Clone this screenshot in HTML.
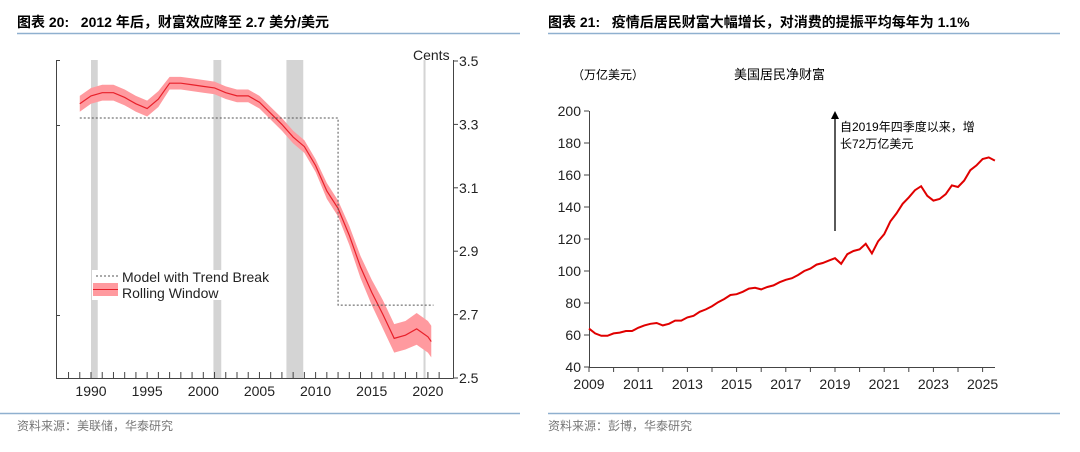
<!DOCTYPE html>
<html><head><meta charset="utf-8"><style>
body{margin:0;background:#fff;width:1080px;height:447px;overflow:hidden;font-family:"Liberation Sans","Noto Sans CJK SC",sans-serif}
svg text{font-family:"Liberation Sans","Noto Sans CJK SC",sans-serif}
</style></head><body>
<svg width="1080" height="447" viewBox="0 0 1080 447">
<g>
<text x="17" y="27" font-size="14" font-weight="bold" fill="#000">图表 20:&#160;&#160;&#160;2012 年后，财富效应降至 2.7 美分/美元</text>
<line x1="17" y1="33.5" x2="520" y2="33.5" stroke="#8fb0cf" stroke-width="1.5"/>
<g id="lc"></g>
<line x1="0" y1="413.5" x2="520" y2="413.5" stroke="#8fb0cf" stroke-width="1.5"/>
<text x="17" y="430" font-size="12" fill="#777">资料来源：美联储，华泰研究</text>
</g>
<g>
<text x="548" y="27" font-size="14" font-weight="bold" fill="#000">图表 21:&#160;&#160;&#160;疫情后居民财富大幅增长，对消费的提振平均每年为 1.1%</text>
<line x1="548" y1="33.5" x2="1060" y2="33.5" stroke="#8fb0cf" stroke-width="1.5"/>
<text x="572" y="79" font-size="12" fill="#000">（万亿美元）</text>
<text x="734" y="79" font-size="13" fill="#000">美国居民净财富</text>
<g id="rc"></g>
<line x1="548" y1="413.5" x2="1060" y2="413.5" stroke="#8fb0cf" stroke-width="1.5"/>
<text x="548" y="430" font-size="12" fill="#777">资料来源：彭博，华泰研究</text>
</g>
</svg>
<script>
const NS="http://www.w3.org/2000/svg";
function mk(p,t,a){const e=document.createElementNS(NS,t);for(const k in a)e.setAttribute(k,a[k]);p.appendChild(e);return e;}
// ---- left chart data
const leftYears=[1989,1990,1991,1992,1993,1994,1995,1996,1997,1998,1999,2000,2001,2002,2003,2004,2005,2006,2007,2008,2009,2010,2011,2012,2013,2014,2015,2016,2017,2018,2019,2020,2020.3];
const leftCenter=[3.365,3.39,3.40,3.40,3.385,3.365,3.35,3.38,3.43,3.43,3.425,3.42,3.415,3.40,3.39,3.39,3.37,3.335,3.30,3.26,3.23,3.17,3.09,3.035,2.95,2.85,2.77,2.70,2.625,2.635,2.655,2.63,2.615];
const leftBand=[0.025,0.025,0.025,0.025,0.025,0.025,0.025,0.025,0.02,0.02,0.02,0.02,0.02,0.02,0.02,0.02,0.02,0.02,0.02,0.02,0.02,0.02,0.025,0.025,0.03,0.035,0.04,0.045,0.045,0.045,0.05,0.05,0.05];
const recessions=[[1990.0,1990.6],[2000.9,2001.6],[2007.4,2008.9]];
const covidYear=2019.7;
const modelBreakYear=2012, modelStart=1989, modelEnd=2020.5;
const modelLevels=[3.32,2.73];
const leftTicks=[2.5,2.7,2.9,3.1,3.3,3.5];
const leftXTicks=[1990,1995,2000,2005,2010,2015,2020];
const lx=y=>91+(y-1990)*11.23, ly=v=>378-(v-2.5)*317;
const L=document.getElementById('lc');
recessions.forEach(r=>{const e=mk(L,'rect',{x:lx(r[0]),y:60,width:lx(r[1])-lx(r[0]),height:318,fill:'#d4d4d4'});

});
let g=mk(L,'line',{x1:lx(covidYear),x2:lx(covidYear),y1:60,y2:378,stroke:'#d4d4d4','stroke-width':2});


let bp=leftYears.map((y,i)=>lx(y)+','+ly(leftCenter[i]+leftBand[i])).join(' ')+' '+leftYears.map((y,i)=>lx(y)+','+ly(leftCenter[i]-leftBand[i])).reverse().join(' ');
g=mk(L,'polygon',{points:bp,fill:'#ff9a9f'});


g=mk(L,'polyline',{points:leftYears.map((y,i)=>lx(y)+','+ly(leftCenter[i])).join(' '),fill:'none',stroke:'#e8202a','stroke-width':1.2});


g=mk(L,'polyline',{points:`${lx(modelStart)},${ly(modelLevels[0])} ${lx(modelBreakYear)},${ly(modelLevels[0])} ${lx(modelBreakYear)},${ly(modelLevels[1])} ${lx(modelEnd)},${ly(modelLevels[1])}`,fill:'none',stroke:'#555','stroke-width':1,'stroke-dasharray':'2,2'});


mk(L,'path',{d:'M60,60.5 H56.5 V378.5 H453.5 M56,125.5 H60 M56,315.5 H60',fill:'none',stroke:'#444','stroke-width':1});
mk(L,'line',{x1:453.5,x2:453.5,y1:60,y2:378,stroke:'#444'});
leftTicks.forEach(t=>{mk(L,'line',{x1:453,x2:458,y1:ly(t),y2:ly(t),stroke:'#444'});
const e=mk(L,'text',{x:459,y:ly(t)+5,'font-size':14,fill:'#222'});e.textContent=t.toFixed(1);

});
for(let y=1988;y<=2021;y++){mk(L,'line',{x1:lx(y),x2:lx(y),y1:378,y2:372,stroke:'#444'});}
leftXTicks.forEach(t=>{const e=mk(L,'text',{x:lx(t),y:396,'font-size':14,'text-anchor':'middle',fill:'#222'});e.textContent=t;

});
g=mk(L,'text',{x:413,y:60,'font-size':14,fill:'#222'});g.textContent='Cents';


mk(L,'rect',{x:92,y:270,width:180,height:30,fill:'#fff'});
mk(L,'line',{x1:96,x2:118,y1:276,y2:276,stroke:'#555','stroke-dasharray':'2,2'});
g=mk(L,'text',{x:122,y:282,'font-size':14,fill:'#222'});g.textContent='Model with Trend Break';


mk(L,'rect',{x:93,y:283,width:25,height:13,fill:'#ff9a9f'});
mk(L,'line',{x1:93,x2:118,y1:289.5,y2:289.5,stroke:'#e8202a'});
g=mk(L,'text',{x:122,y:298,'font-size':14,fill:'#222'});g.textContent='Rolling Window';


// ---- right chart data
const wealthStartYear=2009;
const wealth=[64,61,59.5,59.5, 61,61.5,62.5,62.5, 64.5,66,67,67.5, 66,67,69,69, 71,72,74.5,76, 78,80.5,82.5,85, 85.5,87,89,89.5, 88.5,90,91,93, 94.5,95.5,97.5,100, 101.5,104,105,106.5, 108,104.5,110.5,112.5, 113.5,117,111,118.5, 123,131,136,142, 146,150.5,153,147, 144,145,148,153.5, 152.5,156.5,163,166, 170,171,169];
const rightYTicks=[40,60,80,100,120,140,160,180,200];
const rightXTicks=[2009,2011,2013,2015,2017,2019,2021,2023,2025];
const arrowYear=2019, arrowFrom=125, arrowTo=200;
const rx=y=>589+(y-2009)*24.6, ry=v=>367-(v-40)*1.6;
const R=document.getElementById('rc');
mk(R,'path',{d:`M589.5,${ry(200)} V367.5 H995`,fill:'none',stroke:'#444'});
rightYTicks.forEach(t=>{mk(R,'line',{x1:584,x2:589,y1:ry(t),y2:ry(t),stroke:'#444'});
const e=mk(R,'text',{x:581,y:ry(t)+5,'font-size':14,'text-anchor':'end',fill:'#222'});e.textContent=t;

});
for(let y=2009;y<=2025;y++){mk(R,'line',{x1:rx(y),x2:rx(y),y1:367,y2:372,stroke:'#444'});}
rightXTicks.forEach(t=>{const e=mk(R,'text',{x:rx(t),y:389,'font-size':14,'text-anchor':'middle',fill:'#222'});e.textContent=t;

});
g=mk(R,'polyline',{points:wealth.map((v,i)=>rx(wealthStartYear+i/4)+','+ry(v)).join(' '),fill:'none',stroke:'#e00000','stroke-width':2});


g=mk(R,'line',{x1:rx(arrowYear),x2:rx(arrowYear),y1:ry(arrowFrom),y2:ry(arrowTo)+6,stroke:'#000','stroke-width':1.3});


mk(R,'polygon',{points:`${rx(arrowYear)-4},${ry(arrowTo)+8} ${rx(arrowYear)+4},${ry(arrowTo)+8} ${rx(arrowYear)},${ry(arrowTo)}`,fill:'#000'});
g=mk(R,'text',{x:rx(arrowYear)+5,y:131,'font-size':12,fill:'#000'});g.textContent='自2019年四季度以来，增';


g=mk(R,'text',{x:rx(arrowYear)+5,y:148,'font-size':12,fill:'#000'});g.textContent='长72万亿美元';


</script>
</body></html>
